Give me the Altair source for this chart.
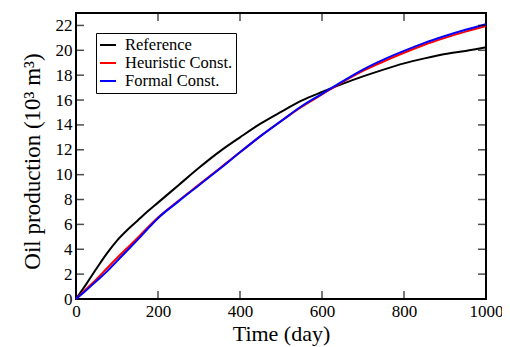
import altair as alt
import pandas as pd

time = [0, 25, 50, 75, 100, 125, 150, 175, 200, 250, 300, 350, 400, 450, 500,
        550, 600, 650, 700, 750, 800, 850, 900, 950, 1000]
reference = [0, 1.2, 2.45, 3.65, 4.7, 5.55, 6.3, 7.05, 7.75, 9.15, 10.55, 11.85,
             13.0, 14.1, 15.05, 15.95, 16.65, 17.3, 17.9, 18.45, 18.95, 19.35,
             19.7, 19.95, 20.25]
heuristic = [0, 0.8, 1.6, 2.45, 3.3, 4.1, 4.9, 5.75, 6.55, 7.9, 9.2, 10.5, 11.8,
             13.1, 14.3, 15.45, 16.45, 17.45, 18.35, 19.1, 19.8, 20.45, 21.0,
             21.5, 21.95]
formal = [0, 0.7, 1.45, 2.2, 3.05, 3.9, 4.75, 5.65, 6.5, 7.85, 9.15, 10.45, 11.8,
          13.1, 14.3, 15.5, 16.5, 17.5, 18.45, 19.25, 19.95, 20.6, 21.15, 21.65,
          22.1]
series_names = ["Reference", "Heuristic Const.", "Formal Const."]
series_colors = ["#000000", "#ff0000", "#0000ff"]
x_ticks = [0, 200, 400, 600, 800, 1000]
y_ticks = [0, 2, 4, 6, 8, 10, 12, 14, 16, 18, 20, 22]
x_inner = [200, 400, 600, 800]
y_inner = [2, 4, 6, 8, 10, 12, 14, 16, 18, 20, 22]

rows = []
for name, vals in zip(series_names, [reference, heuristic, formal]):
    for t, v in zip(time, vals):
        rows.append({"t": t, "v": v, "s": name})
df = pd.DataFrame(rows)

W, H = 410, 286
FONT = "'Liberation Serif', 'Times New Roman', Times, serif"
xs = alt.Scale(domain=[0, 1000], nice=False, zero=False)
ys = alt.Scale(domain=[0, 23], nice=False, zero=False)

x_axis = alt.Axis(values=x_ticks, title="Time (day)", format="d",
                  tickSize=0, domain=False, grid=False, labelPadding=4,
                  titleBaseline="alphabetic", titleY=41, labelFontSize=17,
                  titleFontSize=22, titleFontWeight="normal",
                  labelColor="black", titleColor="black", labelFlush=False,
                  labelFont=FONT, titleFont=FONT)
y_axis = alt.Axis(values=y_ticks, title="Oil production (10³ m³)", format="d",
                  tickSize=0, domain=False, grid=False, labelPadding=4,
                  titlePadding=11, titleY=148, labelFontSize=17,
                  titleFontSize=23, titleFontWeight="normal",
                  labelColor="black", titleColor="black", labelFlush=False,
                  labelFont=FONT, titleFont=FONT)

lines = alt.Chart(df).mark_line(strokeWidth=2, interpolate="monotone").encode(
    x=alt.X("t:Q", scale=xs, axis=x_axis, title="Time (day)"),
    y=alt.Y("v:Q", scale=ys, axis=y_axis, title="Oil production (10³ m³)"),
    color=alt.Color("s:N", sort=series_names,
                    scale=alt.Scale(domain=series_names, range=series_colors),
                    legend=alt.Legend(orient="none", legendX=20, legendY=20,
                                      title=None, strokeColor="black",
                                      fillColor="white", padding=3,
                                      labelFontSize=16.5, labelFont=FONT,
                                      labelColor="black",
                                      symbolType="stroke", symbolStrokeWidth=2,
                                      symbolSize=256, rowPadding=0,
                                      labelOffset=8)),
)

tick_df_x = pd.DataFrame({"t": x_inner})
tick_df_y = pd.DataFrame({"v": y_inner})
tick_style = dict(color="black", size=8, thickness=1.5)
bottom = alt.Chart(tick_df_x).mark_tick(**tick_style).encode(
    x=alt.X("t:Q", scale=xs, axis=x_axis, title="Time (day)"), y=alt.value(H - 4))
top = alt.Chart(tick_df_x).mark_tick(**tick_style).encode(
    x=alt.X("t:Q", scale=xs, axis=x_axis, title="Time (day)"), y=alt.value(4))
left = alt.Chart(tick_df_y).mark_tick(**tick_style).encode(
    y=alt.Y("v:Q", scale=ys, axis=y_axis, title="Oil production (10³ m³)"), x=alt.value(4))
right = alt.Chart(tick_df_y).mark_tick(**tick_style).encode(
    y=alt.Y("v:Q", scale=ys, axis=y_axis, title="Oil production (10³ m³)"), x=alt.value(W - 4))

chart = alt.layer(lines, bottom, top, left, right).properties(
    width=W, height=H, autosize=alt.AutoSizeParams(type="none"),
    padding={"left": 68, "top": 5, "right": 16, "bottom": 48},
    background="white",
).configure_view(stroke="black", strokeWidth=2)

chart.save("out.html", embed_options={"renderer": "svg", "actions": False})
